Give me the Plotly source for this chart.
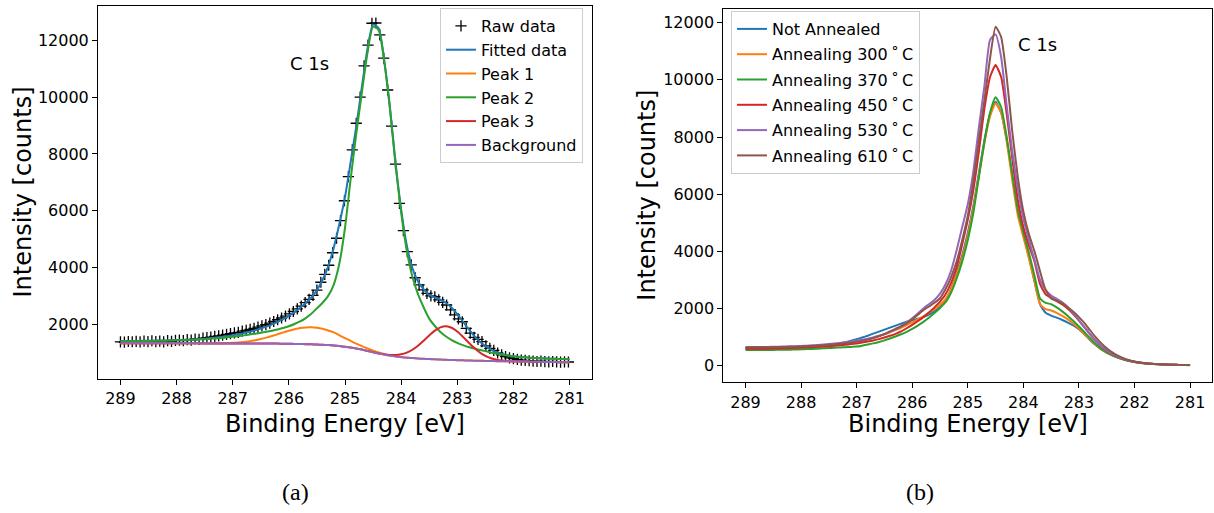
import plotly.graph_objects as go

# ---------------- data: panel (a) ----------------
E_raw = [289.00, 288.93, 288.86, 288.79, 288.72, 288.65, 288.58, 288.51, 288.44, 288.37,
         288.30, 288.23, 288.16, 288.09, 288.02, 287.95, 287.88, 287.81, 287.74, 287.67,
         287.60, 287.53, 287.46, 287.39, 287.32, 287.25, 287.18, 287.11, 287.04, 286.97,
         286.90, 286.83, 286.76, 286.69, 286.62, 286.55, 286.48, 286.41, 286.34, 286.27,
         286.20, 286.13, 286.06, 285.99, 285.92, 285.85, 285.78, 285.71, 285.64, 285.57,
         285.50, 285.43, 285.36, 285.29, 285.22, 285.15, 285.08, 285.01, 284.94, 284.87,
         284.80, 284.73, 284.66, 284.59, 284.52, 284.45, 284.38, 284.31, 284.24, 284.17,
         284.10, 284.03, 283.96, 283.89, 283.82, 283.75, 283.68, 283.61, 283.54, 283.47,
         283.40, 283.33, 283.26, 283.19, 283.12, 283.05, 282.98, 282.91, 282.84, 282.77,
         282.70, 282.63, 282.56, 282.49, 282.42, 282.35, 282.28, 282.21, 282.14, 282.07,
         282.00, 281.93, 281.86, 281.79, 281.72, 281.65, 281.58, 281.51, 281.44, 281.37,
         281.30, 281.23, 281.16, 281.09, 281.02]
raw_counts = [1380, 1372, 1395, 1386, 1402, 1380, 1410, 1392, 1420, 1388,
              1405, 1384, 1422, 1400, 1432, 1446, 1422, 1462, 1440, 1482,
              1470, 1512, 1530, 1546, 1572, 1590, 1622, 1648, 1672, 1700,
              1718, 1762, 1788, 1820, 1858, 1900, 1948, 1992, 2038, 2098,
              2160, 2222, 2290, 2368, 2450, 2540, 2640, 2760, 2880, 3020,
              3200, 3480, 3760, 4080, 4520, 5030, 5650, 6350, 7200, 8140,
              9080, 10000, 11100, 11830, 12600, 12610, 12190, 11370, 10250, 8980,
              7640, 6260, 5300, 4560, 4090, 3640, 3390, 3210, 3090, 3000,
              2970, 2860, 2770, 2680, 2510, 2330, 2190, 2090, 1860, 1690,
              1540, 1470, 1390, 1240, 1150, 1080, 990, 920, 860, 820,
              790, 762, 742, 728, 716, 702, 690, 700, 688, 680,
              690, 678, 670, 680, 672]

E_grid = [289.0, 288.9, 288.8, 288.7, 288.6, 288.5, 288.4, 288.3, 288.2, 288.1,
          288.0, 287.9, 287.8, 287.7, 287.6, 287.5, 287.4, 287.3, 287.2, 287.1,
          287.0, 286.9, 286.8, 286.7, 286.6, 286.5, 286.4, 286.3, 286.2, 286.1,
          286.0, 285.9, 285.8, 285.7, 285.6, 285.5, 285.4, 285.3, 285.2, 285.1,
          285.0, 284.9, 284.8, 284.7, 284.6, 284.5, 284.4, 284.3, 284.2, 284.1,
          284.0, 283.9, 283.8, 283.7, 283.6, 283.5, 283.4, 283.3, 283.2, 283.1,
          283.0, 282.9, 282.8, 282.7, 282.6, 282.5, 282.4, 282.3, 282.2, 282.1,
          282.0, 281.9, 281.8, 281.7, 281.6, 281.5, 281.4, 281.3, 281.2, 281.1,
          281.0]

fitted = [1410, 1412, 1414, 1416, 1418, 1421, 1424, 1428, 1432, 1437,
          1443, 1450, 1458, 1468, 1480, 1495, 1512, 1532, 1556, 1584,
          1615, 1650, 1690, 1735, 1790, 1850, 1920, 2000, 2090, 2190,
          2300, 2430, 2580, 2750, 2950, 3210, 3560, 4040, 4700, 5540,
          6480, 7700, 8960, 10350, 11700, 12560, 12421, 11278, 9648, 7696,
          6048, 4783, 3977, 3511, 3236, 3034, 2951, 2865, 2750, 2580,
          2356, 2099, 1836, 1595, 1392, 1233, 1109, 1022, 955, 909,
          877, 854, 836, 822, 811, 801, 793, 786, 780, 775,
          770]
peak1 = [1332, 1332, 1332, 1331, 1331, 1331, 1331, 1330, 1330, 1330,
         1330, 1330, 1329, 1329, 1329, 1329, 1331, 1333, 1336, 1341,
         1349, 1363, 1381, 1406, 1439, 1481, 1532, 1589, 1651, 1714,
         1775, 1827, 1868, 1891, 1895, 1878, 1841, 1784, 1713, 1613,
         1510, 1413, 1320, 1230, 1148, 1073, 1008, 954, 910, 875,
         848, 828, 811, 797, 786, 776, 767, 758, 750, 743,
         737, 731, 725, 720, 715, 711, 707, 703, 700, 697,
         694, 691, 688, 684, 681, 677, 674, 670, 667, 663,
         660]
peak2 = [1405, 1406, 1408, 1410, 1412, 1415, 1418, 1421, 1425, 1430,
         1435, 1441, 1448, 1456, 1465, 1476, 1489, 1504, 1521, 1540,
         1560, 1585, 1610, 1640, 1670, 1700, 1735, 1775, 1820, 1870,
         1930, 2010, 2100, 2220, 2370, 2560, 2760, 3000, 3400, 4150,
         5400, 7100, 8700, 10150, 11550, 12480, 12360, 11230, 9600, 7630,
         5940, 4600, 3680, 3060, 2600, 2200, 1940, 1730, 1570, 1445,
         1345, 1265, 1200, 1145, 1098, 1055, 1010, 970, 930, 898,
         872, 852, 836, 822, 811, 801, 793, 786, 780, 775,
         770]
peak3 = [1332, 1332, 1332, 1331, 1331, 1331, 1331, 1330, 1330, 1330,
         1330, 1330, 1329, 1329, 1329, 1328, 1328, 1328, 1327, 1327,
         1326, 1326, 1325, 1325, 1324, 1324, 1324, 1322, 1320, 1317,
         1314, 1310, 1306, 1301, 1295, 1288, 1279, 1267, 1252, 1233,
         1210, 1183, 1150, 1110, 1063, 1017, 975, 941, 920, 918,
         942, 1003, 1104, 1247, 1422, 1610, 1778, 1893, 1930, 1878,
         1748, 1565, 1361, 1170, 1009, 889, 806, 755, 725, 708,
         699, 693, 688, 684, 681, 677, 674, 670, 667, 663,
         660]
background = [1332, 1332, 1332, 1331, 1331, 1331, 1331, 1330, 1330, 1330,
              1330, 1330, 1329, 1329, 1329, 1328, 1328, 1328, 1327, 1327,
              1326, 1326, 1325, 1325, 1324, 1324, 1324, 1322, 1320, 1317,
              1314, 1310, 1306, 1301, 1295, 1288, 1279, 1267, 1252, 1233,
              1210, 1183, 1150, 1110, 1063, 1015, 970, 930, 895, 866,
              843, 825, 810, 797, 786, 776, 767, 758, 750, 743,
              737, 731, 725, 720, 715, 711, 707, 703, 700, 697,
              694, 691, 688, 684, 681, 677, 674, 670, 667, 663,
              660]

# ---------------- data: panel (b) ----------------
not_annealed = [620, 621, 622, 623, 625, 627, 629, 632, 636, 641,
                647, 655, 665, 678, 695, 717, 745, 780, 822, 870,
                925, 985, 1050, 1120, 1190, 1260, 1330, 1400, 1470, 1535,
                1585, 1640, 1700, 1790, 1900, 2050, 2270, 2700, 3250, 3870,
                4650, 5600, 6750, 7900, 8800, 9235, 8850, 7900, 6650, 5400,
                4600, 3800, 2950, 2150, 1850, 1750, 1680, 1600, 1510, 1410,
                1280, 1100, 900, 720, 570, 450, 360, 285, 220, 170,
                130, 100, 80, 65, 53, 44, 37, 31, 27, 23,
                20]
anneal_300 = [600, 601, 602, 603, 605, 607, 610, 613, 617, 622,
              628, 636, 646, 658, 672, 690, 712, 738, 767, 800,
              837, 878, 925, 978, 1035, 1100, 1170, 1245, 1325, 1420,
              1520, 1620, 1730, 1850, 1980, 2130, 2330, 2680, 3200, 3780,
              4550, 5500, 6650, 7800, 8720, 9179, 8850, 7850, 6500, 5250,
              4500, 3750, 2950, 2150, 1980, 1930, 1850, 1740, 1620, 1470,
              1300, 1110, 920, 740, 585, 460, 365, 285, 220, 170,
              130, 100, 80, 65, 53, 44, 37, 31, 27, 23,
              20]
anneal_370 = [545, 546, 547, 548, 550, 552, 555, 558, 562, 567,
              573, 580, 588, 597, 607, 618, 628, 638, 648, 658,
              668, 700, 740, 780, 830, 885, 950, 1020, 1100, 1185,
              1290, 1405, 1535, 1680, 1840, 2020, 2220, 2560, 3050, 3650,
              4400, 5350, 6600, 7850, 8850, 9389, 9050, 8000, 6700, 5450,
              4650, 3950, 3150, 2350, 2200, 2150, 2040, 1900, 1740, 1560,
              1370, 1170, 960, 770, 605, 470, 365, 282, 217, 167,
              128, 98, 78, 63, 52, 43, 36, 30, 26, 22,
              18]
anneal_450 = [590, 591, 593, 595, 598, 601, 605, 610, 616, 623,
              631, 641, 652, 660, 670, 680, 696, 714, 734, 756,
              780, 810, 845, 885, 930, 985, 1045, 1115, 1200, 1310,
              1430, 1560, 1700, 1860, 2040, 2240, 2500, 2900, 3450, 4250,
              5100, 6150, 7500, 9000, 10100, 10520, 10100, 8800, 7250, 5800,
              4850, 4200, 3650, 2850, 2500, 2370, 2260, 2140, 1990, 1800,
              1580, 1340, 1100, 880, 690, 530, 405, 310, 235, 180,
              138, 106, 83, 67, 55, 46, 38, 32, 27, 23,
              20]
anneal_530 = [650, 651, 653, 655, 658, 661, 665, 670, 676, 683,
              691, 700, 711, 724, 739, 756, 775, 796, 820, 846,
              875, 908, 945, 990, 1045, 1110, 1185, 1270, 1380, 1520,
              1660, 1830, 2000, 2150, 2300, 2520, 2850, 3330, 4050, 4850,
              5650, 6800, 8350, 9800, 11400, 11590, 10800, 9100, 7500, 6200,
              5150, 4400, 3700, 3000, 2650, 2450, 2340, 2220, 2050, 1830,
              1590, 1340, 1100, 880, 700, 545, 415, 318, 240, 183,
              140, 108, 85, 68, 56, 46, 38, 32, 27, 23,
              20]
anneal_610 = [640, 641, 642, 644, 646, 649, 652, 656, 661, 667,
              674, 682, 692, 703, 716, 731, 748, 767, 788, 812,
              838, 870, 912, 965, 1030, 1105, 1200, 1290, 1380, 1480,
              1620, 1780, 1940, 2070, 2200, 2360, 2680, 3100, 3650, 4400,
              5250, 6450, 7900, 9300, 10750, 11860, 11500, 10100, 8200, 6600,
              5400, 4600, 4000, 3300, 2650, 2350, 2270, 2180, 2040, 1890,
              1700, 1490, 1240, 1000, 790, 610, 465, 350, 262, 196,
              148, 113, 88, 70, 57, 47, 39, 33, 28, 24,
              20]

x_ticks = [289, 288, 287, 286, 285, 284, 283, 282, 281]

C = ["#1f77b4", "#ff7f0e", "#2ca02c", "#d62728", "#9467bd", "#8c564b"]
FONT = "DejaVu Sans"
LW = 2

fig = go.Figure()

# panel (a)
fig.add_trace(go.Scatter(x=E_raw, y=raw_counts, mode="markers", name="Raw data",
                         marker=dict(symbol="cross-thin", size=8, color="black",
                                     line=dict(color="black", width=1.3)),
                         xaxis="x", yaxis="y", legend="legend"))
for name, ys, col in [("Fitted data", fitted, C[0]), ("Peak 1", peak1, C[1]),
                      ("Peak 2", peak2, C[2]), ("Peak 3", peak3, C[3]),
                      ("Background", background, C[4])]:
    fig.add_trace(go.Scatter(x=E_grid, y=ys, mode="lines", name=name,
                             line=dict(color=col, width=LW, shape="spline", smoothing=0.6),
                             xaxis="x", yaxis="y", legend="legend"))

# panel (b)
deg = "\u2009\u02DA\u2009C"
for i, (name, ys) in enumerate([("Not Annealed", not_annealed),
                                ("Annealing 300" + deg, anneal_300),
                                ("Annealing 370" + deg, anneal_370),
                                ("Annealing 450" + deg, anneal_450),
                                ("Annealing 530" + deg, anneal_530),
                                ("Annealing 610" + deg, anneal_610)]):
    fig.add_trace(go.Scatter(x=E_grid, y=ys, mode="lines", name=name,
                             line=dict(color=C[i], width=LW, shape="spline", smoothing=0.5),
                             xaxis="x2", yaxis="y2", legend="legend2",
                             legendgroup="g%d" % i))

W, H = 1214, 513
def px(xp):
    return xp / W
def py(yp):
    return (H - yp) / H

axis_common = dict(showline=True, mirror=True, linecolor="black", linewidth=1,
                   ticks="outside", ticklen=5, tickwidth=1, tickcolor="black",
                   showgrid=False, zeroline=False, tickformat="d",
                   tickfont=dict(family=FONT, size=16, color="black"))

fig.update_layout(
    width=W, height=H, margin=dict(l=0, r=0, t=0, b=0),
    paper_bgcolor="white", plot_bgcolor="white",
    showlegend=True,
    xaxis=dict(domain=[px(98), px(592)], range=[289.4, 280.6], tickvals=x_ticks,
               anchor="y", **axis_common),
    yaxis=dict(domain=[py(379), py(6)], range=[74, 13208], dtick=2000, tick0=0,
               anchor="x", **axis_common),
    xaxis2=dict(domain=[px(723.3), px(1212.3)], range=[289.4, 280.6], tickvals=x_ticks,
                anchor="y2", **axis_common),
    yaxis2=dict(domain=[py(382.3), py(9)], range=[-581, 12479], dtick=2000, tick0=0,
                anchor="x2", **axis_common),
    legend=dict(x=px(583), xanchor="right", y=py(8), yanchor="top",
                bgcolor="rgba(255,255,255,0.8)", bordercolor="#cccccc", borderwidth=1,
                font=dict(family=FONT, size=16, color="black")),
    legend2=dict(x=px(731), xanchor="left", y=py(11), yanchor="top",
                 bgcolor="rgba(255,255,255,0.8)", bordercolor="#cccccc", borderwidth=1,
                 tracegroupgap=1.5,
                 font=dict(family=FONT, size=16, color="black")),
)

ann = []
ann.append(dict(text="Binding Energy [eV]", x=px(345), y=py(424), xref="paper", yref="paper",
                showarrow=False, font=dict(family=FONT, size=24, color="black"),
                xanchor="center", yanchor="middle"))
ann.append(dict(text="Binding Energy [eV]", x=px(967.8), y=py(424), xref="paper", yref="paper",
                showarrow=False, font=dict(family=FONT, size=24, color="black"),
                xanchor="center", yanchor="middle"))
ann.append(dict(text="Intensity [counts]", x=px(22), y=py(192.5), xref="paper", yref="paper",
                showarrow=False, textangle=-90, font=dict(family=FONT, size=24, color="black"),
                xanchor="center", yanchor="middle"))
ann.append(dict(text="Intensity [counts]", x=px(647), y=py(195.7), xref="paper", yref="paper",
                showarrow=False, textangle=-90, font=dict(family=FONT, size=24, color="black"),
                xanchor="center", yanchor="middle"))
ann.append(dict(text="C 1s", x=285.64, y=11200, xref="x", yref="y", showarrow=False,
                font=dict(family=FONT, size=18, color="black"),
                xanchor="center", yanchor="middle"))
ann.append(dict(text="C 1s", x=283.75, y=11220, xref="x2", yref="y2", showarrow=False,
                font=dict(family=FONT, size=18, color="black"),
                xanchor="center", yanchor="middle"))
ann.append(dict(text="(a)", x=px(295), y=py(492), xref="paper", yref="paper", showarrow=False,
                font=dict(family="Liberation Serif", size=24, color="black"),
                xanchor="center", yanchor="middle"))
ann.append(dict(text="(b)", x=px(920), y=py(492), xref="paper", yref="paper", showarrow=False,
                font=dict(family="Liberation Serif", size=24, color="black"),
                xanchor="center", yanchor="middle"))
fig.update_layout(annotations=ann)

fig.write_html("out.html")
